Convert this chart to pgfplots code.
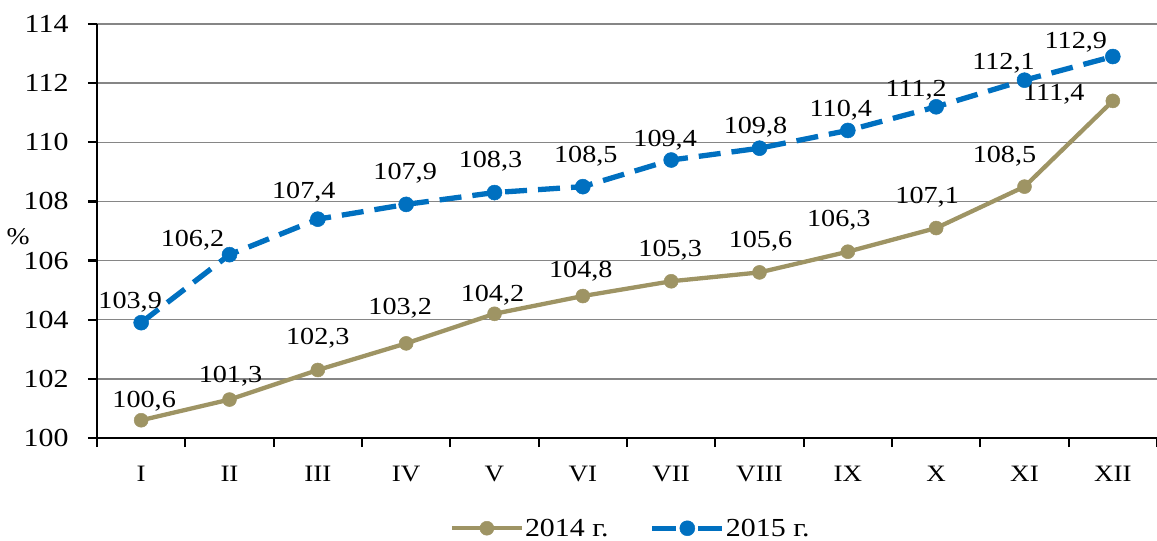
\documentclass[border=0pt]{standalone}
\usepackage{fontspec}
\setmainfont{Liberation Serif}[FakeStretch=1.15]
\usepackage{pgfplots}
\usepackage{pgfplotstable}
\pgfplotsset{compat=1.18}
\definecolor{c14}{RGB}{158,148,100}
\definecolor{c15}{RGB}{0,112,192}
\definecolor{gridc}{RGB}{134,134,134}

\pgfplotstableread{
x y dx dy
0 100.6 3 13
1 101.3 1 17
2 102.3 0 25
3 103.2 -6 29
4 104.2 -2 12
5 104.8 -2 19
6 105.3 -1 25
7 105.6 1 25
8 106.3 -9 25
9 107.1 -9 25
10 108.5 -20 24
11 111.4 -59 0
}\dataA
\pgfplotstableread{
x y dx dy
0 103.9 -11 14
1 106.2 -37 8
2 107.4 -14 21
3 107.9 -1 25
4 108.3 -4 25
5 108.5 3 24
6 109.4 -6 14
7 109.8 -4 15
8 110.4 -7 14
9 111.2 -20 10
10 112.1 -21 11
11 112.9 -37 8
}\dataB

\pgfplotsset{
  lbl/.style={
    visualization depends on={\thisrow{dx} \as \dx},
    visualization depends on={\thisrow{dy} \as \dy},
    nodes near coords={\pgfmathprintnumber[use comma,fixed,fixed zerofill,precision=1,assume math mode=true]{\pgfplotspointmeta}},
    every node near coord/.append style={anchor=base, xshift=\dx pt, yshift=\dy pt, text=black, font=\fontsize{24.5}{28}\selectfont},
  }
}

\begin{document}
\begin{tikzpicture}
\begin{axis}[
  scale only axis, width=1060pt, height=414pt,
  xmin=-0.5, xmax=11.5, ymin=100, ymax=114,
  axis lines*=left,
  axis line style={black, line width=2.2pt},
  ytick={100,102,...,114},
  yticklabels={100,102,104,106,108,110,112,114},
  ymajorgrids, major grid style={gridc, line width=1.3pt},
  xtick={-0.5,0.5,...,11.5}, xticklabels={},
  extra x ticks={0,1,...,11},
  extra x tick labels={I,II,III,IV,V,VI,VII,VIII,IX,X,XI,XII},
  extra x tick style={major tick length=0pt},
  tick align=outside, major tick length=9pt,
  tick style={black, line width=2.2pt},
  /pgf/number format/assume math mode=true,
  every y tick label/.append style={font=\fontsize{26}{30}\selectfont, anchor=east, xshift=-16pt},
  x tick label style={font=\fontsize{23.5}{28}\selectfont, yshift=-25pt},
  ylabel={\%},
  every axis y label/.style={at={(axis description cs:0,0.486)}, anchor=center, xshift=-79pt, font=\fontsize{24}{28}\selectfont},
  legend style={at={(0.503,-0.218)}, anchor=center, draw=none, fill=none,
    legend columns=2, font=\fontsize{26}{30}\selectfont,
    nodes={inner sep=1pt},
    /tikz/every even column/.append style={column sep=40pt}},
  legend image code/.code={\draw[mark repeat=2,mark phase=2,#1] plot coordinates {(0pt,0pt) (35pt,0pt) (70pt,0pt)};},
  clip=false,
]
\addplot[c14, line width=4.3pt, line join=round, mark=*, mark size=7pt, mark options={solid, fill=c14, draw=c14, line width=0.5pt}, lbl] table[x=x,y=y] {\dataA};
\addlegendentry{2014 г.}
\addplot[c15, line width=5.3pt, dash pattern=on 22pt off 11pt, mark=*, mark size=7.5pt, mark options={solid, fill=c15, draw=c15, line width=0.5pt}, legend image post style={dash pattern=on 24pt off 22pt}, lbl] table[x=x,y=y] {\dataB};
\addlegendentry{2015 г.}
\end{axis}
\pgfresetboundingbox
\useasboundingbox (-97pt,-103pt) rectangle (1060pt,438pt);
\end{tikzpicture}
\end{document}
